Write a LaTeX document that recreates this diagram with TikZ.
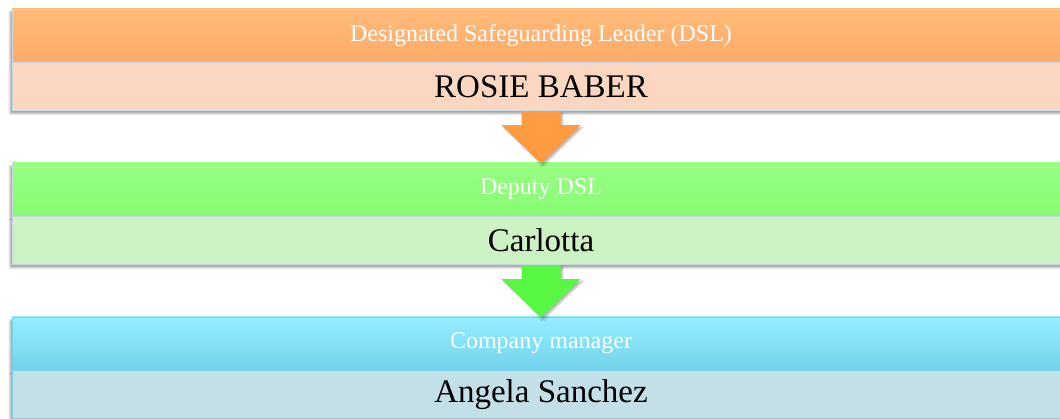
\documentclass[tikz,border=0pt]{standalone}
\usepackage{fontspec}
\setmainfont{Liberation Serif}
\usetikzlibrary{positioning,shadows.blur}

\definecolor{dslTop}{HTML}{FFBB7A}
\definecolor{dslBot}{HTML}{FFAA68}
\definecolor{dslName}{HTML}{FBD7C2}
\definecolor{dslArrow}{HTML}{FF9B40}
\definecolor{depTop}{HTML}{97FF85}
\definecolor{depBot}{HTML}{88FA72}
\definecolor{depName}{HTML}{CCF2C4}
\definecolor{depArrow}{HTML}{57F743}
\definecolor{mgrTop}{HTML}{96EEFF}
\definecolor{mgrBot}{HTML}{72D2EA}
\definecolor{mgrName}{HTML}{C3DFE8}
\definecolor{barLine}{HTML}{C6DAE0}

\tikzset{
  bar/.style={minimum width=1058pt, inner sep=0pt, draw=barLine, line width=0.7pt,
    blur shadow={shadow xshift=-2pt, shadow yshift=-3pt, shadow blur steps=6, shadow opacity=35}},
  headbar/.style={bar, minimum height=53pt, text=white, font=\fontsize{24}{28}\selectfont},
  namebar/.style={bar, minimum height=48pt, text=black, font=\fontsize{33}{38}\selectfont},
  blockarrow/.style={blur shadow={shadow xshift=2pt, shadow yshift=-2pt, shadow blur steps=5, shadow opacity=30}}
}

\begin{document}
\begin{tikzpicture}[x=1pt, y=-1pt]
    \useasboundingbox (0,0) rectangle (1060,419);

    \node[headbar, top color=dslTop, bottom color=dslBot] (dslhead) at (541, 35.5) {Designated Safeguarding Leader (DSL)};
    \node[namebar, fill=dslName, below=0pt of dslhead] (dslname) {ROSIE BABER};

    \node[headbar, top color=depTop, bottom color=depBot] (dephead) at (541, 189.5) {Deputy DSL};
    \node[namebar, fill=depName, below=0pt of dephead] (depname) {Carlotta};

    \node[headbar, top color=mgrTop, bottom color=mgrBot, draw=mgrBot] (mgrhead) at (541, 343.5) {Company manager};
    \node[namebar, fill=mgrName, draw=mgrBot!90!barLine, below=0pt of mgrhead] (mgrname) {Angela Sanchez};

    \fill[blockarrow, dslArrow] ([xshift=-19.5pt]dslname.south) -- ([xshift=-19.5pt, yshift=-14pt]dslname.south)
        -- ([xshift=-39.5pt, yshift=-14pt]dslname.south) -- ([yshift=-1pt]dephead.north)
        -- ([xshift=39.5pt, yshift=-14pt]dslname.south) -- ([xshift=19.5pt, yshift=-14pt]dslname.south)
        -- ([xshift=19.5pt]dslname.south) -- cycle;

    \fill[blockarrow, depArrow] ([xshift=-19.5pt]depname.south) -- ([xshift=-19.5pt, yshift=-14pt]depname.south)
        -- ([xshift=-39.5pt, yshift=-14pt]depname.south) -- ([yshift=-1pt]mgrhead.north)
        -- ([xshift=39.5pt, yshift=-14pt]depname.south) -- ([xshift=19.5pt, yshift=-14pt]depname.south)
        -- ([xshift=19.5pt]depname.south) -- cycle;
\end{tikzpicture}
\end{document}
